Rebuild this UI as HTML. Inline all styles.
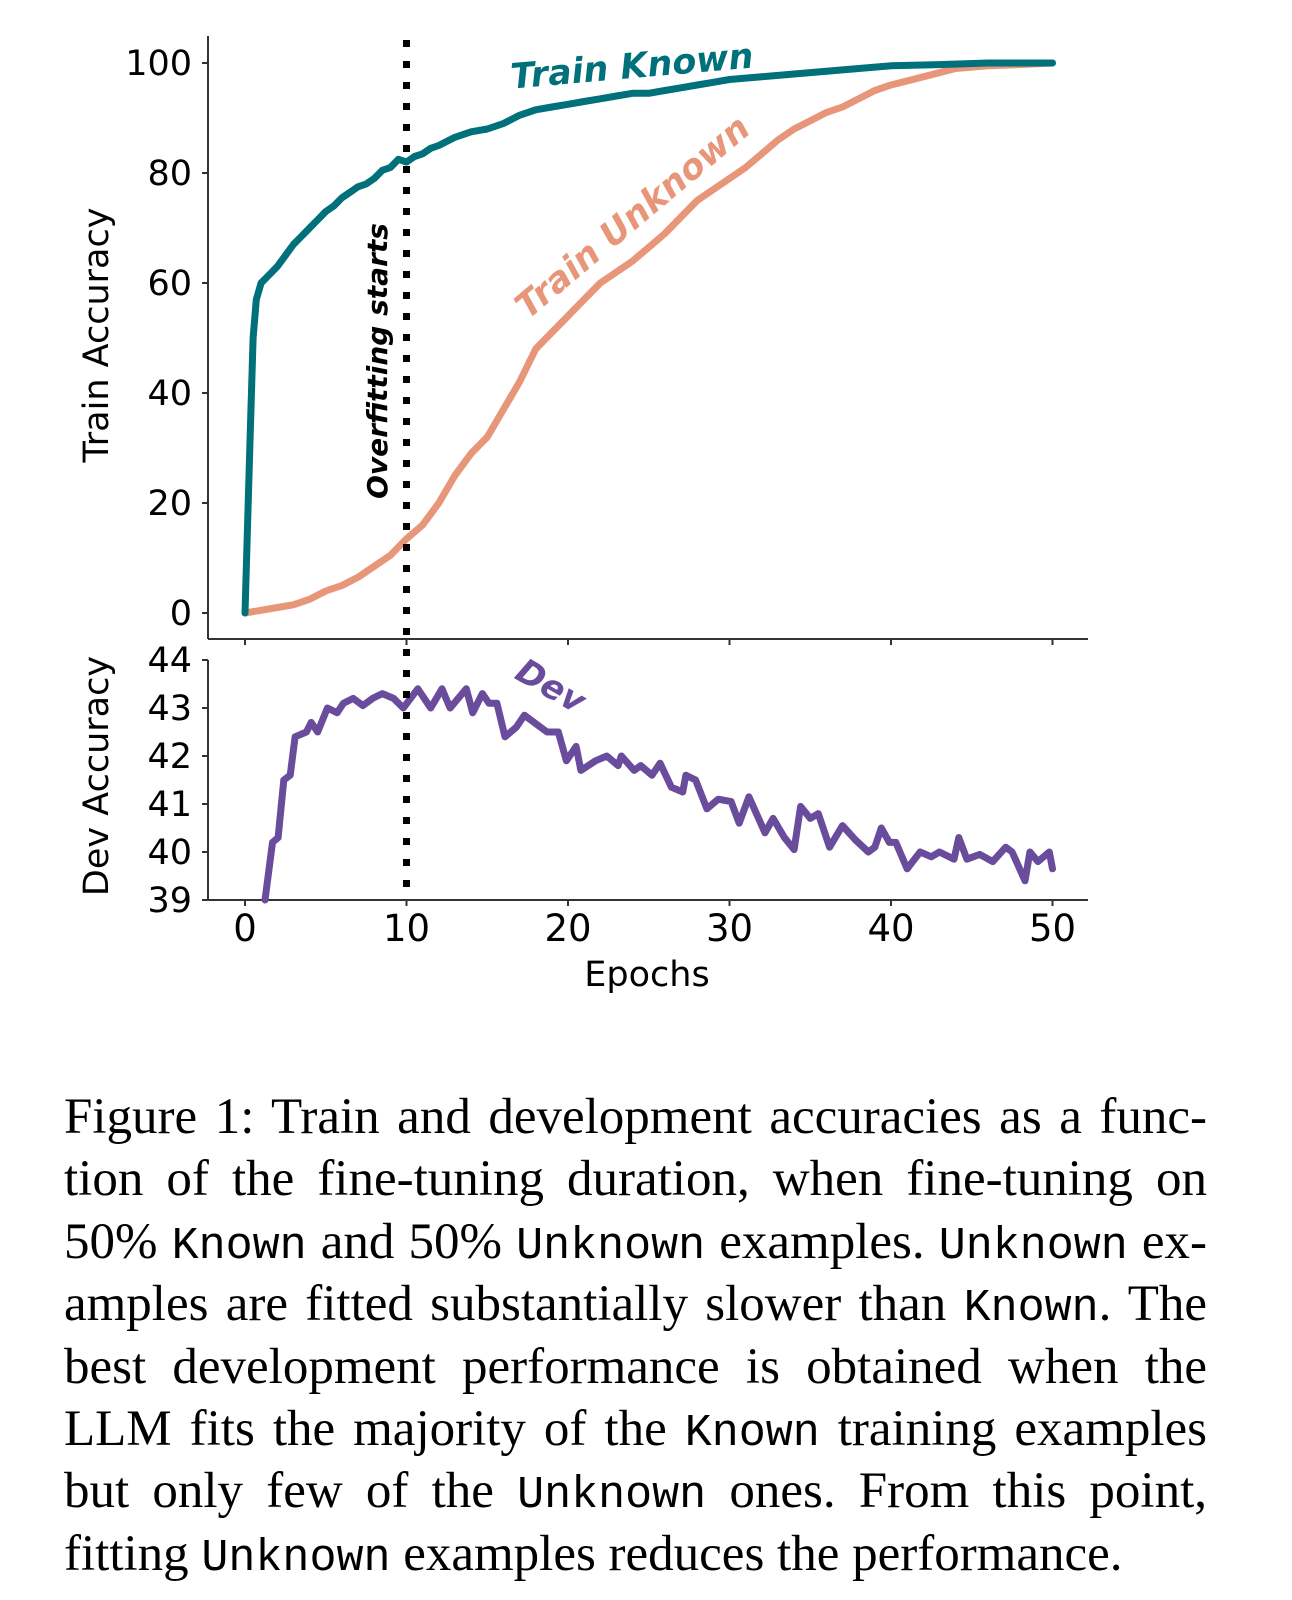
<!DOCTYPE html>
<html><head><meta charset="utf-8"><style>
body{margin:0;background:#fff;width:1292px;height:1600px;overflow:hidden;position:relative}
svg{position:absolute;left:0;top:0}
.cap{position:absolute;left:64px;width:1143px;top:1086px;font-family:"Liberation Serif",serif;font-size:51px;line-height:62.4px;color:#000}
.cap div{text-align:justify;text-align-last:justify;white-space:nowrap;height:62.4px}
.cap div.last{text-align-last:left}
.m{font-family:"Liberation Mono",monospace;font-size:45px}
</style></head><body>
<svg id="chart" width="1292" height="1060" xmlns="http://www.w3.org/2000/svg"></svg>
<div class="cap">
<div>Figure 1: Train and development accuracies as a func-</div>
<div>tion of the fine-tuning duration, when fine-tuning on</div>
<div>50% <span class="m">Known</span> and 50% <span class="m">Unknown</span> examples. <span class="m">Unknown</span> ex-</div>
<div>amples are fitted substantially slower than <span class="m">Known</span>. The</div>
<div>best development performance is obtained when the</div>
<div>LLM fits the majority of the <span class="m">Known</span> training examples</div>
<div>but only few of the <span class="m">Unknown</span> ones. From this point,</div>
<div class="last">fitting <span class="m">Unknown</span> examples reduces the performance.</div>
</div>
<script>
const knownEpochs=[0,0.3,0.5,0.7,1,1.5,2,2.5,3,3.5,4,4.5,5,5.5,6,6.5,7,7.5,8,8.5,9,9.5,10,10.5,11,11.5,12,13,14,15,16,17,18,19,20,21,22,23,24,25,26,27,28,29,30,32,34,36,38,40,43,46,50];
const knownValues=[0,30,50,57,60,61.5,63,65,67,68.5,70,71.5,73,74,75.5,76.5,77.5,78,79,80.5,81,82.5,82,83,83.5,84.5,85,86.5,87.5,88,89,90.5,91.5,92,92.5,93,93.5,94,94.5,94.5,95,95.5,96,96.5,97,97.5,98,98.5,99,99.5,99.7,100,100];
const unknownEpochs=[0,1,2,3,4,5,6,7,8,9,10,11,12,13,14,15,16,17,18,19,20,21,22,23,24,25,26,27,28,29,30,31,32,33,34,35,36,37,38,39,40,42,44,46,48,50];
const unknownValues=[0,0.5,1,1.5,2.5,4,5,6.5,8.5,10.5,13.5,16,20,25,29,32,37,42,48,51,54,57,60,62,64,66.5,69,72,75,77,79,81,83.5,86,88,89.5,91,92,93.5,95,96,97.5,99,99.5,99.7,100];
const devEpochs=[1.24,1.7,2.05,2.4,2.8,3.1,3.8,4.1,4.5,5.1,5.7,6.1,6.7,7.3,7.9,8.5,9.2,9.8,10.7,11.5,12.2,12.7,13.7,14.1,14.7,15.1,15.6,16.1,16.8,17.3,17.9,18.7,19.4,19.9,20.5,20.8,21.7,22.4,23.1,23.3,24.1,24.5,25.2,25.7,26.4,27.1,27.3,27.9,28.6,29.3,30.1,30.6,31.2,32.2,32.7,33.4,34.0,34.4,35.0,35.5,36.2,37.0,37.8,38.6,39.0,39.4,39.9,40.3,41.0,41.8,42.5,43.0,43.9,44.2,44.7,45.5,46.3,47.1,47.5,48.3,48.6,49.1,49.8,50];
const devValues=[39.0,40.2,40.3,41.5,41.6,42.4,42.5,42.7,42.5,43.0,42.9,43.1,43.2,43.05,43.2,43.3,43.2,43.0,43.4,43.0,43.4,43.0,43.4,42.9,43.3,43.1,43.1,42.4,42.6,42.85,42.7,42.5,42.5,41.9,42.2,41.7,41.9,42.0,41.8,42.0,41.7,41.8,41.6,41.85,41.35,41.25,41.6,41.5,40.9,41.1,41.05,40.6,41.15,40.4,40.7,40.3,40.05,40.95,40.7,40.8,40.1,40.55,40.25,40.0,40.1,40.5,40.2,40.2,39.65,40.0,39.9,40.0,39.85,40.3,39.85,39.95,39.8,40.1,40.0,39.4,40.0,39.8,40.0,39.65];
const xTicks=[0,10,20,30,40,50];
const topTicks=[0,20,40,60,80,100];
const devTicks=[39,40,41,42,43,44];

const NS='http://www.w3.org/2000/svg';
const svg=document.getElementById('chart');
const X=e=>245+e*16.15;
const YT=v=>613-v*5.5;
const YD=v=>660+(44-v)*48;
const F='"DejaVu Sans","Liberation Sans",sans-serif';
function mk(t,a){const el=document.createElementNS(NS,t);for(const k in a)el.setAttribute(k,a[k]);svg.appendChild(el);return el;}
function txt(s,a){const el=mk('text',a);el.textContent=s;return el;}

let el;
el=mk('line',{x1:208,y1:36,x2:208,y2:639,stroke:'#333','stroke-width':2});


el=mk('line',{x1:208,y1:639,x2:1088,y2:639,stroke:'#333','stroke-width':2});


el=mk('line',{x1:208,y1:660,x2:208,y2:900,stroke:'#333','stroke-width':2});


el=mk('line',{x1:208,y1:900,x2:1088,y2:900,stroke:'#333','stroke-width':2});



topTicks.forEach(v=>{
  mk('line',{x1:202,y1:YT(v),x2:208,y2:YT(v),stroke:'#333','stroke-width':2});
  el=txt(String(v),{x:192,y:YT(v)+12,'text-anchor':'end','font-family':F,'font-size':35});
  
  
});
devTicks.forEach(v=>{
  mk('line',{x1:202,y1:YD(v),x2:208,y2:YD(v),stroke:'#333','stroke-width':2});
  el=txt(String(v),{x:192,y:YD(v)+12,'text-anchor':'end','font-family':F,'font-size':35});
  
  
});
xTicks.forEach(e=>{
  mk('line',{x1:X(e),y1:639,x2:X(e),y2:645,stroke:'#333','stroke-width':2});
  mk('line',{x1:X(e),y1:900,x2:X(e),y2:906,stroke:'#333','stroke-width':2});
  el=txt(String(e),{x:X(e),y:941,'text-anchor':'middle','font-family':F,'font-size':37});
  
  
});

function path(xs,ys,fy,color,name){
  let d='';xs.forEach((e,i)=>{d+=(i?'L':'M')+X(e).toFixed(1)+' '+fy(ys[i]).toFixed(1);});
  const p=mk('path',{d:d,fill:'none',stroke:color,'stroke-width':7,'stroke-linejoin':'round','stroke-linecap':'round'});
  
  
}
path(unknownEpochs,unknownValues,YT,'#E8967A','train-unknown-line');
path(knownEpochs,knownValues,YT,'#00707A','train-known-line');
path(devEpochs,devValues,YD,'#6A4C9C','dev-line');

el=mk('line',{x1:X(10),y1:40,x2:X(10),y2:900,stroke:'#000','stroke-width':7,'stroke-dasharray':'7 14'});



el=txt('Overfitting starts',{x:0,y:0,transform:'translate(387,361) rotate(-90)','text-anchor':'middle','font-family':F,'font-size':28,'font-weight':'bold','font-style':'italic'});


el=txt('Train Known',{x:0,y:0,transform:'translate(633,78) rotate(-5)','text-anchor':'middle','font-family':F,'font-size':35,'font-weight':'bold','font-style':'italic',fill:'#00707A'});


el=txt('Train Unknown',{x:0,y:0,transform:'translate(640,226) rotate(-40)','text-anchor':'middle','font-family':F,'font-size':35,'font-weight':'bold','font-style':'italic',fill:'#E8967A'});


el=txt('Dev',{x:0,y:0,transform:'translate(545,696) rotate(30)','text-anchor':'middle','font-family':F,'font-size':34,'font-weight':'bold','font-style':'italic',fill:'#6A4C9C'});



el=txt('Train Accuracy',{x:0,y:0,transform:'translate(108,335) rotate(-90)','text-anchor':'middle','font-family':F,'font-size':35});


el=txt('Dev Accuracy',{x:0,y:0,transform:'translate(108,776) rotate(-90)','text-anchor':'middle','font-family':F,'font-size':35});


el=txt('Epochs',{x:647,y:986,'text-anchor':'middle','font-family':F,'font-size':35});


</script>
</body></html>
